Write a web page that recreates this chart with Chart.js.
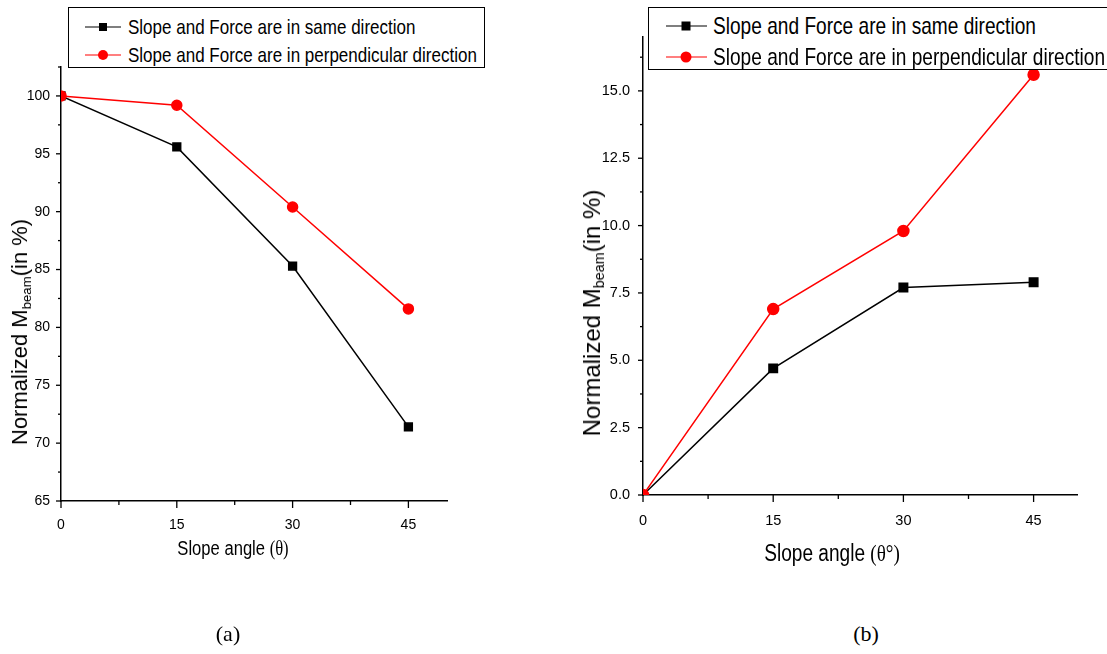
<!DOCTYPE html>
<html>
<head>
<meta charset="utf-8">
<script src="https://cdn.jsdelivr.net/npm/chart.js@4.4.1/dist/chart.umd.min.js"></script>
<style>
html, body { margin: 0; padding: 0; background: #fff; }
#page { position: relative; width: 1107px; height: 654px; overflow: hidden; font-family: "Liberation Sans", Arial, sans-serif; color: #000; }
canvas { position: absolute; top: 0; }
.legend { position: absolute; border: 1.3px solid #000; border-right: none; background: #fff; box-sizing: border-box; }
.legend.a { border-right: 1.3px solid #000; }
.sample { position: absolute; height: 0; border-top: 1.5px solid; transform: translateY(-50%); }
.mk { position: absolute; transform: translate(-50%, -50%); }
.lt { position: absolute; white-space: nowrap; transform-origin: left center; }
.ctr { position: absolute; white-space: nowrap; transform: translate(-50%, -50%) scaleX(0.83); }
.ytitle { position: absolute; white-space: nowrap; transform: translate(-50%, -50%) rotate(-90deg); }
.ytitle sub { font-size: 0.6em; vertical-align: -0.3em; line-height: 0; }
.serif { font-family: "Liberation Serif", "Times New Roman", serif; }
.cap { position: absolute; font-family: "Liberation Serif", "Times New Roman", serif; font-size: 22px; transform: translate(-50%, -50%); }
</style>
</head>
<body>
<div id="page">
  <canvas id="chartA" width="560" height="600" style="left:0"></canvas>
  <canvas id="chartB" width="547" height="600" style="left:560px"></canvas>

  <div class="legend a" style="left:68px; top:7px; width:417px; height:61px;">
    <div class="sample" style="left:16px; top:19px; width:36px; border-color:#000;"></div>
    <div class="mk" style="left:34px; top:19px; width:8px; height:8px; background:#000;"></div>
    <div class="lt" style="left:59px; top:19px; font-size:21px; transform:translateY(-50%) scaleX(0.81);">Slope and Force are in same direction</div>
    <div class="sample" style="left:16px; top:47px; width:36px; border-color:#f00;"></div>
    <div class="mk" style="left:34px; top:47px; width:10px; height:10px; border-radius:50%; background:#f00;"></div>
    <div class="lt" style="left:59px; top:47px; font-size:21px; transform:translateY(-50%) scaleX(0.81);">Slope and Force are in perpendicular direction</div>
  </div>

  <div class="legend b" style="left:648px; top:7px; width:480px; height:63px;">
    <div class="sample" style="left:17px; top:18px; width:41px; border-color:#000;"></div>
    <div class="mk" style="left:37px; top:18px; width:9px; height:9px; background:#000;"></div>
    <div class="lt" style="left:64px; top:18px; font-size:23.6px; transform:translateY(-50%) scaleX(0.81);">Slope and Force are in same direction</div>
    <div class="sample" style="left:17px; top:49px; width:41px; border-color:#f00;"></div>
    <div class="mk" style="left:37px; top:49px; width:11px; height:11px; border-radius:50%; background:#f00;"></div>
    <div class="lt" style="left:64px; top:49px; font-size:23.6px; transform:translateY(-50%) scaleX(0.81);">Slope and Force are in perpendicular direction</div>
  </div>

  <div class="ctr" style="left:233px; top:548px; font-size:20px;">Slope angle <span class="serif">(θ)</span></div>
  <div class="ctr" style="left:832px; top:553px; font-size:23px;">Slope angle <span class="serif">(θ°)</span></div>

  <div class="ytitle" style="left:20px; top:332px; font-size:22px;">Normalized M<sub>beam</sub>(in %)</div>
  <div class="ytitle" style="left:592px; top:313px; font-size:24px;">Normalized M<sub>beam</sub>(in %)</div>

  <div class="cap" style="left:228px; top:634px;">(a)</div>
  <div class="cap" style="left:866px; top:634px;">(b)</div>
</div>

<script>
// slope angles (deg)
const angles = [0, 15, 30, 45];

// (a) normalized M_beam, %
const sameDirA = [100, 95.6, 85.3, 71.4];
const perpDirA = [100, 99.2, 90.4, 81.6];

// (b) normalized M_beam, %
const sameDirB = [0, 4.7, 7.7, 7.9];
const perpDirB = [0, 6.9, 9.8, 15.6];

// labelled ticks
const xTickLabels = ['0', '15', '30', '45'];
const yTickLabelsA = ['65', '70', '75', '80', '85', '90', '95', '100'];
const yTickLabelsB = ['0.0', '2.5', '5.0', '7.5', '10.0', '12.5', '15.0'];

const tickFamily = '"Liberation Sans", Arial, sans-serif';

// short outward tick marks, longer where there's a label
const tickMarks = {
    id: 'tickMarks',
    afterDraw(chart) {
        const ctx = chart.ctx;
        ctx.save();
        ctx.strokeStyle = '#000';
        ctx.lineWidth = 1.3;
        for (const scale of Object.values(chart.scales)) {
            const tm = scale.options.tickMarks;
            if (!tm) continue;
            scale.ticks.forEach(t => {
                const len = t.label !== '' ? tm.major : tm.minor;
                const p = scale.getPixelForValue(t.value);
                ctx.beginPath();
                if (scale.isHorizontal()) {
                    ctx.moveTo(p, scale.top);
                    ctx.lineTo(p, scale.top + len);
                } else {
                    ctx.moveTo(scale.right, p);
                    ctx.lineTo(scale.right - len, p);
                }
                ctx.stroke();
            });
        }
        ctx.restore();
    }
};

function pts(ys) {
    return angles.map((a, i) => ({ x: a, y: ys[i] }));
}

function makeChart(id, same, perp, cfg) {
    return new Chart(document.getElementById(id), {
        type: 'line',
        data: {
            datasets: [{
                label: 'Slope and Force are in same direction',
                data: pts(same),
                borderColor: '#000',
                backgroundColor: '#000',
                borderWidth: 1.5,
                pointStyle: 'rect',
                pointRadius: cfg.rectR,
                pointHoverRadius: cfg.rectR,
                order: 1
            }, {
                label: 'Slope and Force are in perpendicular direction',
                data: pts(perp),
                borderColor: '#f00',
                backgroundColor: '#f00',
                borderWidth: 1.5,
                pointStyle: 'circle',
                pointRadius: cfg.circR,
                pointHoverRadius: cfg.circR,
                order: 0
            }]
        },
        options: {
            responsive: false,
            animation: false,
            devicePixelRatio: 1,
            layout: { padding: cfg.padding },
            plugins: { legend: { display: false }, tooltip: { enabled: false } },
            scales: {
                x: {
                    type: 'linear',
                    min: 0,
                    max: 50,
                    afterBuildTicks: s => { s.ticks = s.ticks.filter(t => Math.abs(t.value / 7.5 - Math.round(t.value / 7.5)) < 1e-6); },
                    afterFit: s => { s.height = cfg.xH; },
                    tickMarks: { major: 7, minor: 4 },
                    grid: { drawOnChartArea: false, color: 'transparent', tickLength: 7 },
                    border: { display: true, color: '#000', width: 1.5 },
                    ticks: {
                        stepSize: 7.5,
                        maxRotation: 0,
                        autoSkip: false,
                        padding: cfg.xPad,
                        color: '#000',
                        font: { family: tickFamily, size: cfg.fontSize },
                        callback: v => { const s = String(v); return xTickLabels.includes(s) ? s : ''; }
                    }
                },
                y: {
                    min: cfg.yMin,
                    max: cfg.yMax,
                    afterBuildTicks: s => { s.ticks = s.ticks.filter(t => Math.abs(t.value / cfg.yStep - Math.round(t.value / cfg.yStep)) < 1e-6); },
                    afterFit: s => { s.width = cfg.yW; },
                    tickMarks: { major: 5, minor: 3 },
                    grid: { drawOnChartArea: false, color: 'transparent', tickLength: 5 },
                    border: { display: true, color: '#000', width: 1.5 },
                    ticks: {
                        stepSize: cfg.yStep,
                        autoSkip: false,
                        padding: cfg.yPad,
                        color: '#000',
                        font: { family: tickFamily, size: cfg.fontSize },
                        callback: v => { const s = cfg.fmt(v); return cfg.yLabels.includes(s) ? s : ''; }
                    }
                }
            }
        },
        plugins: [tickMarks]
    });
}

makeChart('chartA', sameDirA, perpDirA, {
    padding: { left: 0, top: 67, right: 113, bottom: 0 },
    yW: 61, xH: 99, xPad: 9, yPad: 6,
    yMin: 65, yMax: 102.5, yStep: 2.5,
    yLabels: yTickLabelsA, fmt: v => String(v),
    fontSize: 14, rectR: 5.5, circR: 5
});

makeChart('chartB', sameDirB, perpDirB, {
    padding: { left: 0, top: 37, right: 30, bottom: 0 },
    yW: 83, xH: 105, xPad: 10, yPad: 8,
    yMin: 0, yMax: 17, yStep: 1.25,
    yLabels: yTickLabelsB, fmt: v => v.toFixed(1),
    fontSize: 14.5, rectR: 6, circR: 5.5
});
</script>
</body>
</html>
